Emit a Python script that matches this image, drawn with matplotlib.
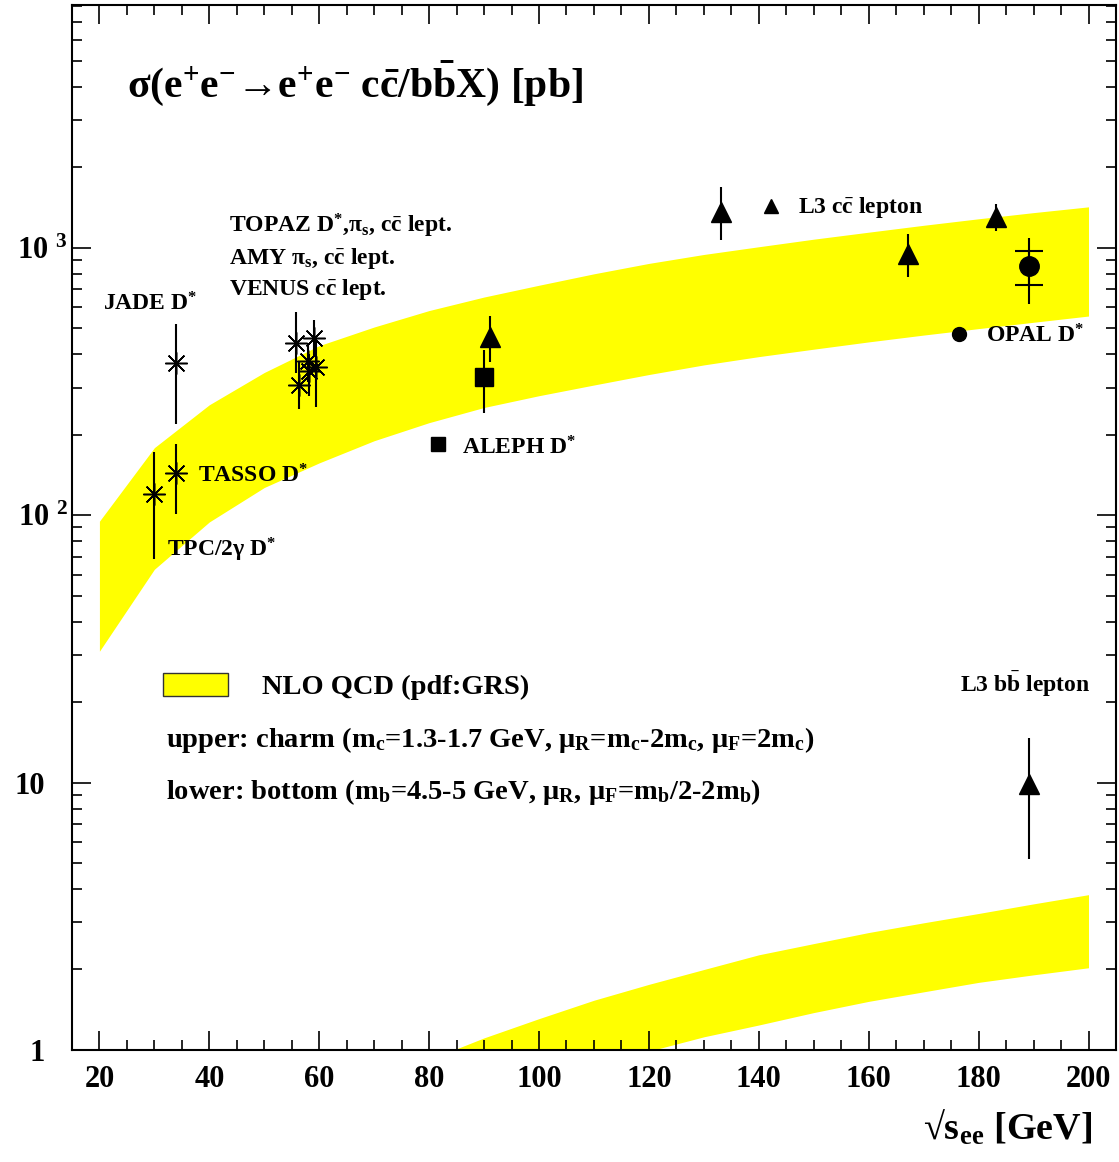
import matplotlib
matplotlib.use("Agg")
import matplotlib.pyplot as plt
import matplotlib.transforms as mtransforms
from matplotlib.patches import Rectangle
import numpy as np

plt.rcParams["font.family"] = ["Liberation Serif", "DejaVu Serif"]
plt.rcParams["font.weight"] = "bold"
plt.rcParams["mathtext.fontset"] = "custom"
plt.rcParams["mathtext.rm"] = "Liberation Serif:bold"
plt.rcParams["mathtext.it"] = "Liberation Serif:bold"
plt.rcParams["mathtext.bf"] = "Liberation Serif:bold"
plt.rcParams["mathtext.default"] = "regular"

# NLO QCD band, charm (upper)
charm_sqrts = [20, 30, 40, 50, 60, 70, 80, 90, 100, 110, 120, 130, 140, 150, 160, 170, 180, 190, 200]
charm_hi = [95, 179, 259, 342, 431, 506, 583, 655, 725, 800, 875, 945, 1010, 1078, 1145, 1215, 1285, 1355, 1424]
charm_lo = [31, 62.8, 94.4, 127, 157, 190, 222, 253, 280, 307, 336, 365, 392, 418, 445, 472, 499, 527, 556]

# NLO QCD band, bottom (lower)
bottom_sqrts = [80, 90, 100, 110, 120, 130, 140, 150, 160, 170, 180, 190, 200]
bottom_hi = [0.92, 1.11, 1.31, 1.535, 1.76, 2.0, 2.27, 2.5, 2.75, 2.99, 3.24, 3.52, 3.81]
bottom_lo = [0.55, 0.62, 0.72, 0.84, 0.99, 1.12, 1.24, 1.38, 1.52, 1.65, 1.79, 1.91, 2.03]

# D* / lepton measurements at PETRA, PEP, TRISTAN
star_x = [29.9, 34.0, 34.0, 55.8, 56.3, 59.0, 58.0, 59.5, 58.2]
star_y = [120, 144, 371, 440, 307, 459, 378, 357, 347]
star_lo = [68.7, 101, 219, 340, 249, 398, 316, 254, 279]
star_hi = [172, 185, 519, 576, 378, 537, 436, 456, 401]

# ALEPH D*
aleph_x = [90.0]
aleph_y = [328]
aleph_lo = [241]
aleph_hi = [416]

# L3 cc lepton
l3c_x = [91.1, 133.2, 167.2, 183.2]
l3c_y = [464, 1364, 950, 1307]
l3c_lo = [374, 1071, 779, 1158]
l3c_hi = [556, 1692, 1128, 1462]

# OPAL D* (stat and total errors)
opal_x = [189.2]
opal_y = [859]
opal_stat_lo = [729]
opal_stat_hi = [977]
opal_tot_lo = [617]
opal_tot_hi = [1087]

# L3 bb lepton
l3b_x = [189.2]
l3b_y = [9.9]
l3b_lo = [5.2]
l3b_hi = [14.7]


def yerr(y, lo, hi):
    y = np.asarray(y, float)
    return [y - np.asarray(lo, float), np.asarray(hi, float) - y]


fig = plt.figure(figsize=(11.19, 11.62), dpi=100)
ax = fig.add_axes([0.0643, 0.0964, 0.9330, 0.8993])

ax.fill_between(charm_sqrts, charm_lo, charm_hi, color="#ffff00", lw=0, zorder=1)
ax.fill_between(bottom_sqrts, bottom_lo, bottom_hi, color="#ffff00", lw=0, zorder=1)

ekw = dict(ecolor="black", elinewidth=1.5, capsize=0, zorder=3)
ax.errorbar(star_x, star_y, yerr=yerr(star_y, star_lo, star_hi), fmt="none", **ekw)
ax.plot(star_x, star_y, ls="none", marker=(8, 2, 0), ms=16, mew=1.1, color="black", zorder=4)

ax.errorbar(aleph_x, aleph_y, yerr=yerr(aleph_y, aleph_lo, aleph_hi), fmt="s", ms=13, color="black", **ekw)
ax.errorbar(l3c_x, l3c_y, yerr=yerr(l3c_y, l3c_lo, l3c_hi), fmt="^", ms=14, color="black", **ekw)
ax.errorbar(l3b_x, l3b_y, yerr=yerr(l3b_y, l3b_lo, l3b_hi), fmt="^", ms=14, color="black", **ekw)
ax.errorbar(opal_x, opal_y, yerr=yerr(opal_y, opal_tot_lo, opal_tot_hi), fmt="o", ms=14, color="black", **ekw)
ax.errorbar(opal_x, opal_y, yerr=yerr(opal_y, opal_stat_lo, opal_stat_hi), fmt="none",
            ecolor="black", elinewidth=1.5, capsize=10, capthick=1.5, zorder=3)

ax.set_yscale("log")
ax.set_xlim(15, 205)
ax.set_ylim(1, 8100)

ax.set_xticks(np.arange(20, 201, 20))
ax.set_xticks(np.arange(15, 206, 5), minor=True)
ax.set_yticks([1, 10, 100, 1000], labels=["1", "10", "10 $^{2}$", "10 $^{3}$"])
ax.tick_params(which="both", direction="in", top=True, right=True, width=1.2, labelsize=22)
ax.tick_params(which="major", length=14)
ax.tick_params(which="minor", length=7)
ax.tick_params(axis="x", pad=11)
ax.tick_params(axis="y", pad=3)
for sp in ax.spines.values():
    sp.set_linewidth(1.5)

shift = mtransforms.ScaledTranslation(-16.5 / 72, 0, fig.dpi_scale_trans)
for lbl in ax.get_yticklabels():
    if "$" not in lbl.get_text():
        lbl.set_transform(lbl.get_transform() + shift)

T = ax.transAxes
ax.text(0.0527, 0.912, r"σ(e$^{+}$e$^{-}$→e$^{+}$e$^{-}$ c$\bar{c}$/b$\bar{b}$X) [pb]",
        transform=T, fontsize=30, va="baseline")

lab = dict(transform=T, fontsize=17, va="baseline")
ax.text(0.0297, 0.7072, r"JADE D$^{*}$", **lab)
ax.text(0.1504, 0.7821, r"TOPAZ D$^{*}$,π$_{s}$, c$\bar{c}$ lept.", **lab)
ax.text(0.1504, 0.7522, r"AMY π$_{s}$, c$\bar{c}$ lept.", **lab)
ax.text(0.1504, 0.7225, r"VENUS c$\bar{c}$ lept.", **lab)
ax.text(0.1207, 0.5429, r"TASSO D$^{*}$", **lab)
ax.text(0.0910, 0.4727, r"TPC/2γ D$^{*}$", **lab)
ax.text(0.3740, 0.5700, r"ALEPH D$^{*}$", **lab)
ax.text(0.6957, 0.8013, r"L3 c$\bar{c}$ lepton", **lab)
ax.text(0.8755, 0.6772, r"OPAL D$^{*}$", **lab)
ax.text(0.8506, 0.3423, r"L3 b$\bar{b}$ lepton", **lab)

# legend keys
ax.plot([0.3503], [0.580], marker="s", ms=9.5, color="black", transform=T)
ax.plot([0.6695], [0.808], marker="^", ms=10, color="black", transform=T)
ax.plot([0.8500], [0.685], marker="o", ms=10, color="black", transform=T)

ax.add_patch(Rectangle((0.0872, 0.3388), 0.0623, 0.0220, transform=T,
                       facecolor="#ffff00", edgecolor="#333333", lw=1.0, zorder=5))
leg = dict(transform=T, fontsize=20.5, va="baseline")
ax.text(0.1816, 0.3407, "NLO QCD (pdf:GRS)", **leg)
ax.text(0.0900, 0.2900, r"upper: charm (m$_{c}$=1.3-1.7 GeV, μ$_{R}$=m$_{c}$-2m$_{c}$, μ$_{F}$=2m$_{c}$)", **leg)
ax.text(0.0900, 0.2402, r"lower: bottom (m$_{b}$=4.5-5 GeV, μ$_{R}$, μ$_{F}$=m$_{b}$/2-2m$_{b}$)", **leg)

fig.text(0.976, 0.0189, r"√s$_{ee}$ [GeV]", fontsize=27.5, ha="right", va="baseline")

fig.savefig("out.png", dpi=100)
